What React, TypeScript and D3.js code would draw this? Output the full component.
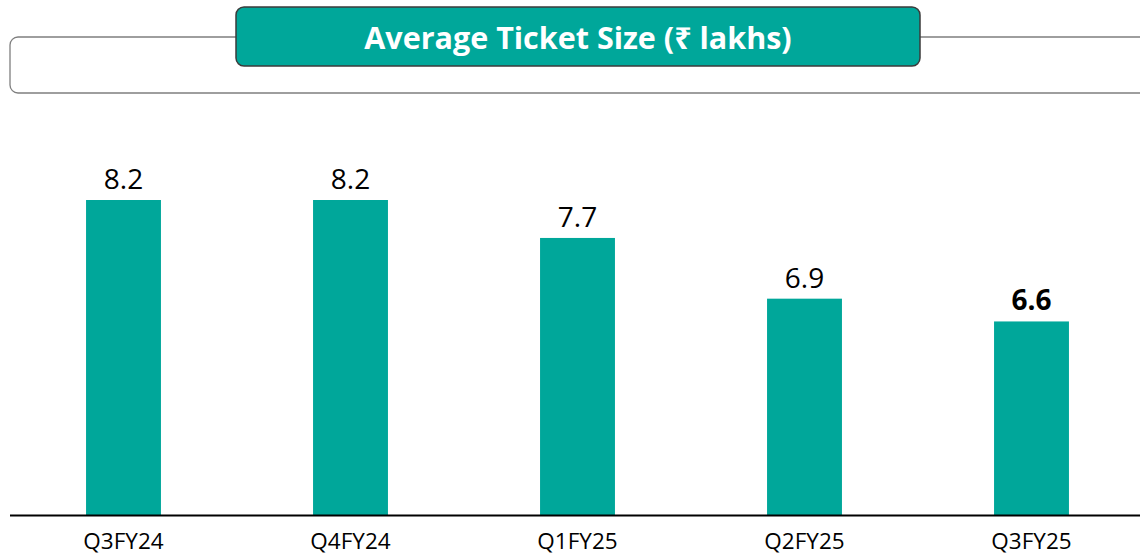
import React from 'react';
import * as d3 from 'd3';

const categories = ['Q3FY24', 'Q4FY24', 'Q1FY25', 'Q2FY25', 'Q3FY25'];
const values = [8.2, 8.2, 7.7, 6.9, 6.6];
const boldLabel = [false, false, false, false, true];
const title = 'Average Ticket Size (₹ lakhs)';

const W = 1140;
const H = 556;
const teal = '#00A79A';
const font = "'Open Sans', 'Noto Sans', 'DejaVu Sans', sans-serif";

const App = () => {
  const x = d3.scaleBand().domain(categories).range([10, 1145]).paddingInner(0.67).paddingOuter(0.335);
  const y = d3.scaleLinear().domain([4.05, 8.2]).range([515, 200]);
  const base = y(4.05);

  return (
    <svg width={W} height={H} style={{ position: 'absolute', left: 0, top: 0 }}>
      <rect x={0} y={0} width={W} height={H} fill="#fff" />
      {/* header frame */}
      <rect x={10} y={37} width={1160} height={56} rx={8} fill="#fff" stroke="#7f7f7f" strokeWidth={1.3} />
      <rect x={236} y={7} width={684} height={59} rx={8} fill={teal} stroke="#3b3b3b" strokeWidth={1.5} />
      <text x={578} y={37} textAnchor="middle" dominantBaseline="central" fill="#fff"
        fontFamily={font} fontWeight={700} fontSize={30.5}>{title}</text>

      {categories.map((c, i) => (
        <g key={c}>
          <rect x={x(c)} y={y(values[i])} width={x.bandwidth()} height={base - y(values[i])} fill={teal} />
          <text x={x(c)! + x.bandwidth() / 2} y={y(values[i]) - 11} textAnchor="middle"
            fontFamily={font} fontSize={28} fontWeight={boldLabel[i] ? 700 : 400} fill="#000">
            {values[i].toFixed(1)}
          </text>
          <text x={x(c)! + x.bandwidth() / 2} y={549} textAnchor="middle"
            fontFamily={font} fontSize={22.5} fill="#000">{c}</text>
        </g>
      ))}

      <line x1={10} x2={1140} y1={515.5} y2={515.5} stroke="#000" strokeWidth={2} />
    </svg>
  );
};

export default App;
